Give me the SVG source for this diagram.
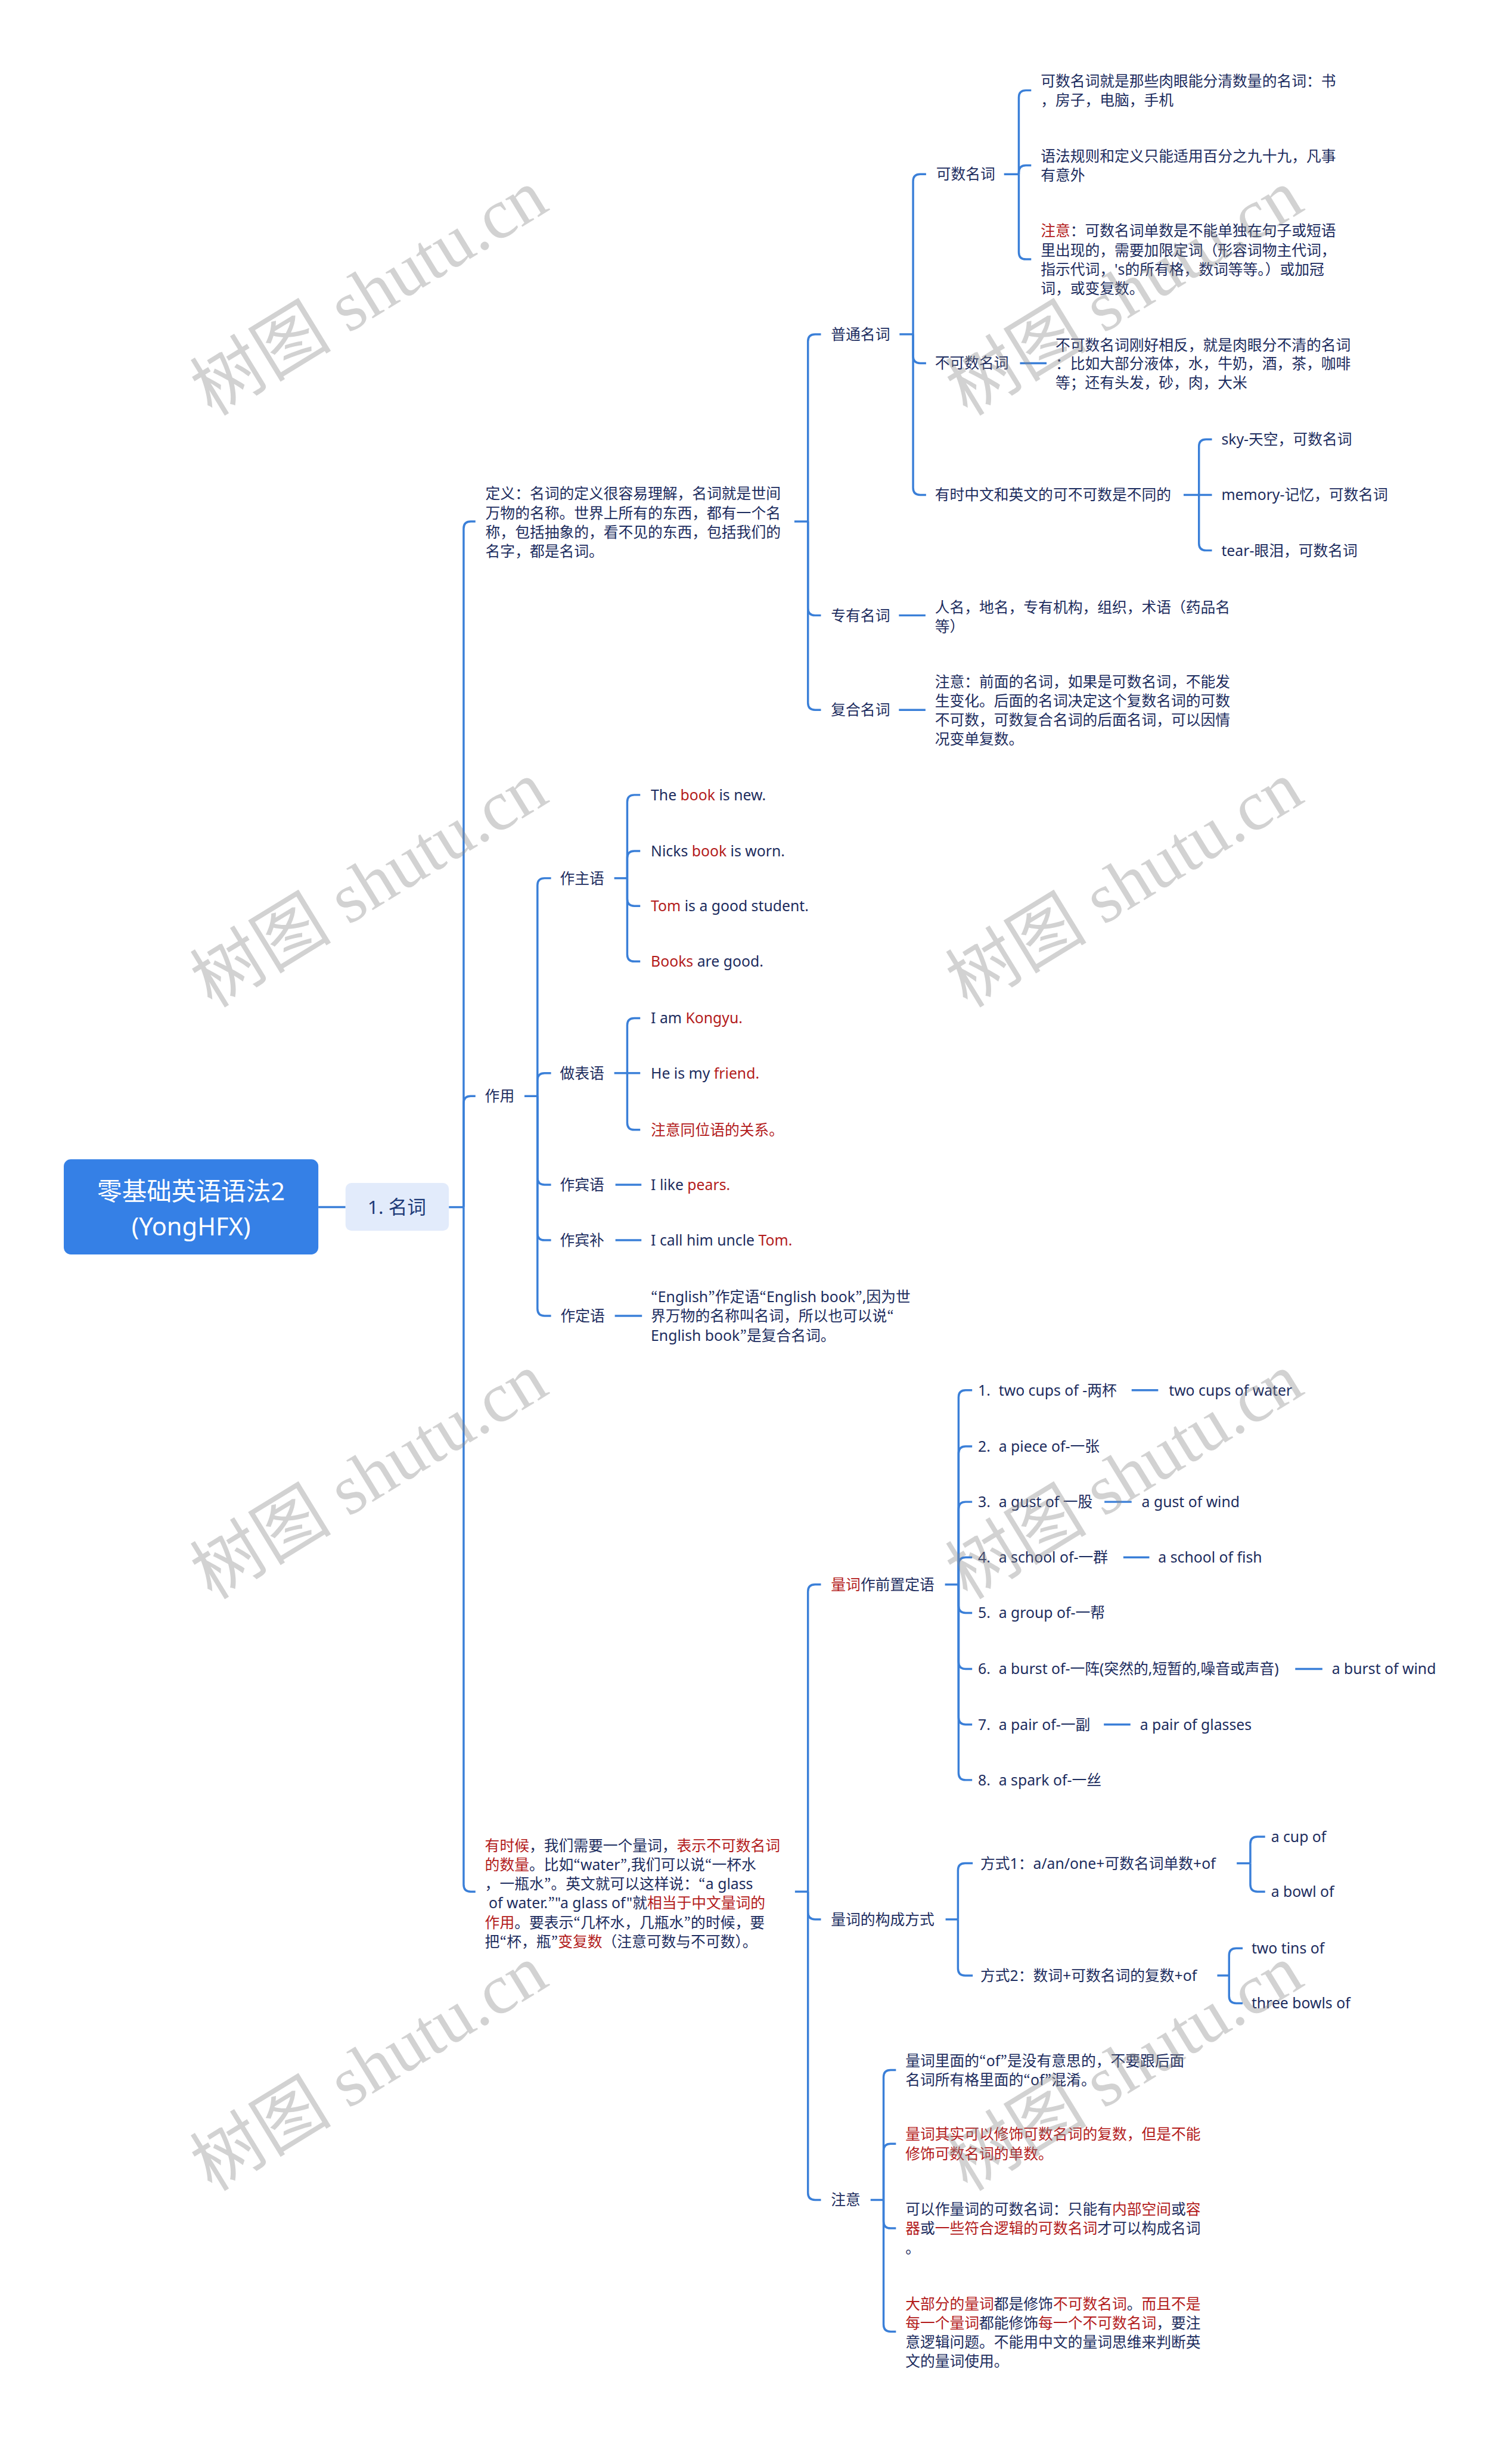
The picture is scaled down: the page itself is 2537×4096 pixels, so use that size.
<svg xmlns="http://www.w3.org/2000/svg" width="2537" height="4096" viewBox="0 0 2537 4096">
<style>
.t{font-family:"Noto Sans","Noto Sans CJK SC",sans-serif;font-size:25px;fill:#1c2c5e}
.r{fill:#b31b1b}
.q{font-family:"Noto Sans CJK JP","Noto Sans CJK SC",sans-serif}
.c{fill:none;stroke:#3a7fd8;stroke-width:3.5}
.wm{font-family:"Liberation Serif","Noto Sans CJK SC",serif;font-size:120px;fill:#8a8a8a;fill-opacity:0.38;text-anchor:middle}
</style>
<rect width="2537" height="4096" fill="#ffffff"/>
<g transform="scale(0.991)">
<g id="connectors" class="c">
<path d="M539 2044H585"/>
<path d="M760 2044H785"/>
<path d="M785 2044V895Q785 883 797 883H805"/>
<path d="M785 2044V1868Q785 1856 797 1856H805"/>
<path d="M785 2044V3191Q785 3203 797 3203H805"/>
<path d="M1345 883H1368"/>
<path d="M1368 883V578Q1368 566 1380 566H1390"/>
<path d="M1368 883V1030Q1368 1042 1380 1042H1390"/>
<path d="M1368 883V1190Q1368 1202 1380 1202H1390"/>
<path d="M1523 566H1546"/>
<path d="M1546 566V307Q1546 295 1558 295H1568"/>
<path d="M1546 566V603Q1546 615 1558 615H1568"/>
<path d="M1546 566V826Q1546 838 1558 838H1568"/>
<path d="M1700 295H1725"/>
<path d="M1725 295V165Q1725 153 1737 153H1746"/>
<path d="M1725 295V292Q1725 280 1737 280H1746"/>
<path d="M1725 295V427Q1725 439 1737 439H1746"/>
<path d="M1727 615H1772"/>
<path d="M2004 838H2030"/>
<path d="M2030 838V756Q2030 744 2042 744H2052"/>
<path d="M2030 838H2052"/>
<path d="M2030 838V920Q2030 932 2042 932H2052"/>
<path d="M1522 1042H1567"/>
<path d="M1522 1202H1567"/>
<path d="M888 1856H910"/>
<path d="M910 1856V1499Q910 1487 922 1487H933"/>
<path d="M910 1856V1829Q910 1817 922 1817H933"/>
<path d="M910 1856V1994Q910 2006 922 2006H933"/>
<path d="M910 1856V2088Q910 2100 922 2100H933"/>
<path d="M910 1856V2216Q910 2228 922 2228H933"/>
<path d="M1040 1487H1062"/>
<path d="M1062 1487V1358Q1062 1346 1074 1346H1084"/>
<path d="M1062 1487V1453Q1062 1441 1074 1441H1084"/>
<path d="M1062 1487V1522Q1062 1534 1074 1534H1084"/>
<path d="M1062 1487V1616Q1062 1628 1074 1628H1084"/>
<path d="M1040 1817H1062"/>
<path d="M1062 1817V1736Q1062 1724 1074 1724H1084"/>
<path d="M1062 1817H1084"/>
<path d="M1062 1817V1901Q1062 1913 1074 1913H1084"/>
<path d="M1042 2006H1086"/>
<path d="M1042 2100H1086"/>
<path d="M1041 2228H1087"/>
<path d="M1346 3203H1368"/>
<path d="M1368 3203V2695Q1368 2683 1380 2683H1390"/>
<path d="M1368 3203V3238Q1368 3250 1380 3250H1390"/>
<path d="M1368 3203V3713Q1368 3725 1380 3725H1390"/>
<path d="M1600 2683H1623"/>
<path d="M1623 2683V2366Q1623 2354 1635 2354H1646"/>
<path d="M1623 2683V2461Q1623 2449 1635 2449H1646"/>
<path d="M1623 2683V2555Q1623 2543 1635 2543H1646"/>
<path d="M1623 2683V2649Q1623 2637 1635 2637H1646"/>
<path d="M1623 2683V2719Q1623 2731 1635 2731H1646"/>
<path d="M1623 2683V2814Q1623 2826 1635 2826H1646"/>
<path d="M1623 2683V2908Q1623 2920 1635 2920H1646"/>
<path d="M1623 2683V3002Q1623 3014 1635 3014H1646"/>
<path d="M1916 2354H1961"/>
<path d="M1870 2543H1916"/>
<path d="M1902 2637H1946"/>
<path d="M2193 2826H2239"/>
<path d="M1869 2920H1914"/>
<path d="M1601 3250H1622"/>
<path d="M1622 3250V3167Q1622 3155 1634 3155H1647"/>
<path d="M1622 3250V3333Q1622 3345 1634 3345H1647"/>
<path d="M2094 3155H2117"/>
<path d="M2117 3155V3122Q2117 3110 2129 3110H2142"/>
<path d="M2117 3155V3191Q2117 3203 2129 3203H2142"/>
<path d="M2061 3345H2081"/>
<path d="M2081 3345V3311Q2081 3299 2093 3299H2104"/>
<path d="M2081 3345V3380Q2081 3392 2093 3392H2104"/>
<path d="M1474 3725H1496"/>
<path d="M1496 3725V3517Q1496 3505 1508 3505H1517"/>
<path d="M1496 3725V3642Q1496 3630 1508 3630H1517"/>
<path d="M1496 3725V3761Q1496 3773 1508 3773H1517"/>
<path d="M1496 3725V3936Q1496 3948 1508 3948H1517"/>
</g>

<g id="root">
<rect x="108" y="1963" width="431" height="161" rx="12" fill="#3580e6"/>
<text x="323.5" y="2032" text-anchor="middle" style="font-family:'Noto Sans','Noto Sans CJK SC',sans-serif;font-size:42px;fill:#ffffff">零基础英语语法2</text>
<text x="323.5" y="2092" text-anchor="middle" style="font-family:'Noto Sans','Noto Sans CJK SC',sans-serif;font-size:42px;fill:#ffffff">(YongHFX)</text>
</g>
<g id="n1">
<rect x="585" y="2003" width="175" height="81" rx="10" fill="#e2ebfb"/>
<text x="672" y="2055" text-anchor="middle" style="font-family:'Noto Sans','Noto Sans CJK SC',sans-serif;font-size:32px;fill:#1d3a78">1. 名词</text>
</g>

<g id="def"><text class="t"><tspan x="822" y="845">定义：名词的定义很容易理解，名词就是世间</tspan><tspan x="822" y="877.5">万物的名称。世界上所有的东西，都有一个名</tspan><tspan x="822" y="910">称，包括抽象的，看不见的东西，包括我们的</tspan><tspan x="822" y="942.5">名字，都是名词。</tspan></text></g>
<g id="putong"><text class="t" x="1407" y="575">普通名词</text></g>
<g id="zhuanyou"><text class="t" x="1407" y="1051">专有名词</text></g>
<g id="fuhe"><text class="t" x="1407" y="1211">复合名词</text></g>
<g id="keshu"><text class="t" x="1585" y="304">可数名词</text></g>
<g id="bukeshu"><text class="t" x="1583" y="624">不可数名词</text></g>
<g id="youshi"><text class="t" x="1583" y="847">有时中文和英文的可不可数是不同的</text></g>
<g id="ks1"><text class="t"><tspan x="1762" y="146.5">可数名词就是那些肉眼能分清数量的名词：书</tspan><tspan x="1762" y="179">，房子，电脑，手机</tspan></text></g>
<g id="ks2"><text class="t"><tspan x="1762" y="273">语法规则和定义只能适用百分之九十九，凡事</tspan><tspan x="1762" y="305.5">有意外</tspan></text></g>
<g id="ks3"><text class="t"><tspan x="1762" y="400"><tspan class="r">注意</tspan>：可数名词单数是不能单独在句子或短语</tspan><tspan x="1762" y="432.5">里出现的，需要加限定词（形容词物主代词，</tspan><tspan x="1762" y="465">指示代词，'s的所有格，数词等等。）或加冠</tspan><tspan x="1762" y="497.5">词，或变复数。</tspan></text></g>
<g id="bks"><text class="t"><tspan x="1787" y="593">不可数名词刚好相反，就是肉眼分不清的名词</tspan><tspan x="1787" y="625">：比如大部分液体，水，牛奶，酒，茶，咖啡</tspan><tspan x="1787" y="657">等；还有头发，砂，肉，大米</tspan></text></g>
<g id="sky"><text class="t" x="2068" y="753">sky-天空，可数名词</text></g>
<g id="memory"><text class="t" x="2068" y="847">memory-记忆，可数名词</text></g>
<g id="tear"><text class="t" x="2068" y="941">tear-眼泪，可数名词</text></g>
<g id="zy"><text class="t"><tspan x="1583" y="1037">人名，地名，专有机构，组织，术语（药品名</tspan><tspan x="1583" y="1069.5">等）</tspan></text></g>
<g id="fh"><text class="t"><tspan x="1583" y="1163">注意：前面的名词，如果是可数名词，不能发</tspan><tspan x="1583" y="1195.5">生变化。后面的名词决定这个复数名词的可数</tspan><tspan x="1583" y="1228">不可数，可数复合名词的后面名词，可以因情</tspan><tspan x="1583" y="1260.5">况变单复数。</tspan></text></g>

<g id="zuoyong"><text class="t" x="821" y="1865">作用</text></g>
<g id="zzy"><text class="t" x="948" y="1496">作主语</text></g>
<g id="zby"><text class="t" x="948" y="1826">做表语</text></g>
<g id="zbinyu"><text class="t" x="948" y="2015">作宾语</text></g>
<g id="zbb"><text class="t" x="948" y="2109">作宾补</text></g>
<g id="zdy"><text class="t" x="949" y="2237">作定语</text></g>
<g id="s1"><text class="t" x="1102" y="1355">The <tspan class="r">book</tspan> is new.</text></g>
<g id="s2"><text class="t" x="1102" y="1450">Nicks <tspan class="r">book</tspan> is worn.</text></g>
<g id="s3"><text class="t" x="1102" y="1543"><tspan class="r">Tom</tspan> is a good student.</text></g>
<g id="s4"><text class="t" x="1102" y="1637"><tspan class="r">Books</tspan> are good.</text></g>
<g id="s5"><text class="t" x="1102" y="1733">I am <tspan class="r">Kongyu.</tspan></text></g>
<g id="s6"><text class="t" x="1102" y="1826">He is my <tspan class="r">friend.</tspan></text></g>
<g id="s7"><text class="t r" x="1102" y="1922">注意同位语的关系。</text></g>
<g id="s8"><text class="t" x="1102" y="2015">I like <tspan class="r">pears.</tspan></text></g>
<g id="s9"><text class="t" x="1102" y="2109">I call him uncle <tspan class="r">Tom.</tspan></text></g>
<g id="s10"><text class="t"><tspan x="1102" y="2205"><tspan class="q">“</tspan>English<tspan class="q">”</tspan>作定语<tspan class="q">“</tspan>English book<tspan class="q">”</tspan>,因为世</tspan><tspan x="1102" y="2237.5">界万物的名称叫名词，所以也可以说<tspan class="q">“</tspan></tspan><tspan x="1102" y="2270">English book<tspan class="q">”</tspan>是复合名词。</tspan></text></g>

<g id="youshihou"><text class="t"><tspan x="821" y="3134"><tspan class="r">有时候</tspan>，我们需要一个量词，<tspan class="r">表示不可数名词</tspan></tspan><tspan x="821" y="3166.5"><tspan class="r">的数量</tspan>。比如<tspan class="q">“</tspan>water<tspan class="q">”</tspan>,我们可以说<tspan class="q">“</tspan>一杯水</tspan><tspan x="821" y="3199">，一瓶水<tspan class="q">”</tspan>。英文就可以这样说：<tspan class="q">“</tspan>a glass</tspan><tspan x="821" y="3231.5"> of water.<tspan class="q">”</tspan>"a glass of"就<tspan class="r">相当于中文量词的</tspan></tspan><tspan x="821" y="3264"><tspan class="r">作用</tspan>。要表示<tspan class="q">“</tspan>几杯水，几瓶水<tspan class="q">”</tspan>的时候，要</tspan><tspan x="821" y="3296.5">把<tspan class="q">“</tspan>杯，瓶<tspan class="q">”</tspan><tspan class="r">变复数</tspan>（注意可数与不可数）。</tspan></text></g>

<g id="lc1"><text class="t" x="1407" y="2692"><tspan class="r">量词</tspan>作前置定语</text></g>
<g id="i1"><text class="t"><tspan x="1656" y="2363">1.</tspan><tspan x="1691" y="2363">two cups of -两杯</tspan></text></g>
<g id="i1b"><text class="t" x="1979" y="2363">two cups of water</text></g>
<g id="i2"><text class="t"><tspan x="1656" y="2458">2.</tspan><tspan x="1691" y="2458">a piece of-一张</tspan></text></g>
<g id="i3"><text class="t"><tspan x="1656" y="2552">3.</tspan><tspan x="1691" y="2552">a gust of 一股</tspan></text></g>
<g id="i3b"><text class="t" x="1933" y="2552">a gust of wind</text></g>
<g id="i4"><text class="t"><tspan x="1656" y="2646">4.</tspan><tspan x="1691" y="2646">a school of-一群</tspan></text></g>
<g id="i4b"><text class="t" x="1961" y="2646">a school of fish</text></g>
<g id="i5"><text class="t"><tspan x="1656" y="2740">5.</tspan><tspan x="1691" y="2740">a group of-一帮</tspan></text></g>
<g id="i6"><text class="t"><tspan x="1656" y="2835">6.</tspan><tspan x="1691" y="2835">a burst of-一阵(突然的,短暂的,噪音或声音)</tspan></text></g>
<g id="i6b"><text class="t" x="2255" y="2835">a burst of wind</text></g>
<g id="i7"><text class="t"><tspan x="1656" y="2929">7.</tspan><tspan x="1691" y="2929">a pair of-一副</tspan></text></g>
<g id="i7b"><text class="t" x="1930" y="2929">a pair of glasses</text></g>
<g id="i8"><text class="t"><tspan x="1656" y="3023">8.</tspan><tspan x="1691" y="3023">a spark of-一丝</tspan></text></g>

<g id="lc2"><text class="t" x="1407" y="3259">量词的构成方式</text></g>
<g id="fs1"><text class="t" x="1660" y="3164">方式1：a/an/one+可数名词单数+of</text></g>
<g id="fs2"><text class="t" x="1660" y="3354">方式2：数词+可数名词的复数+of</text></g>
<g id="cup"><text class="t" x="2152" y="3119">a cup of</text></g>
<g id="bowl"><text class="t" x="2152" y="3212">a bowl of</text></g>
<g id="tins"><text class="t" x="2119" y="3308">two tins of</text></g>
<g id="bowls"><text class="t" x="2119" y="3401">three bowls of</text></g>

<g id="zhuyi"><text class="t" x="1407" y="3734">注意</text></g>
<g id="zy1"><text class="t"><tspan x="1533" y="3498">量词里面的<tspan class="q">“</tspan>of<tspan class="q">”</tspan>是没有意思的，不要跟后面</tspan><tspan x="1533" y="3530.5">名词所有格里面的<tspan class="q">“</tspan>of<tspan class="q">”</tspan>混淆。</tspan></text></g>
<g id="zy2"><text class="t r"><tspan x="1533" y="3623">量词其实可以修饰可数名词的复数，但是不能</tspan><tspan x="1533" y="3655.5">修饰可数名词的单数。</tspan></text></g>
<g id="zy3"><text class="t"><tspan x="1533" y="3750">可以作量词的可数名词：只能有<tspan class="r">内部空间</tspan>或<tspan class="r">容</tspan></tspan><tspan x="1533" y="3782.5"><tspan class="r">器</tspan>或<tspan class="r">一些符合逻辑的可数名词</tspan>才可以构成名词</tspan><tspan x="1533" y="3815">。</tspan></text></g>
<g id="zy4"><text class="t"><tspan x="1533" y="3910"><tspan class="r">大部分的量词</tspan>都是修饰<tspan class="r">不可数名词</tspan>。<tspan class="r">而且不是</tspan></tspan><tspan x="1533" y="3942.5"><tspan class="r">每一个量词</tspan>都能修饰<tspan class="r">每一个不可数名词</tspan>，要注</tspan><tspan x="1533" y="3975">意逻辑问题。不能用中文的量词思维来判断英</tspan><tspan x="1533" y="4007.5">文的量词使用。</tspan></text></g>

<g id="watermarks" class="wm">
<text transform="translate(646 530) rotate(-31.5)">树图 shutu.cn</text>
<text transform="translate(1925 530) rotate(-31.5)">树图 shutu.cn</text>
<text transform="translate(646 1532) rotate(-31.5)">树图 shutu.cn</text>
<text transform="translate(1925 1532) rotate(-31.5)">树图 shutu.cn</text>
<text transform="translate(646 2534) rotate(-31.5)">树图 shutu.cn</text>
<text transform="translate(1925 2534) rotate(-31.5)">树图 shutu.cn</text>
<text transform="translate(646 3536) rotate(-31.5)">树图 shutu.cn</text>
<text transform="translate(1925 3536) rotate(-31.5)">树图 shutu.cn</text>
</g>
</g>
</svg>
